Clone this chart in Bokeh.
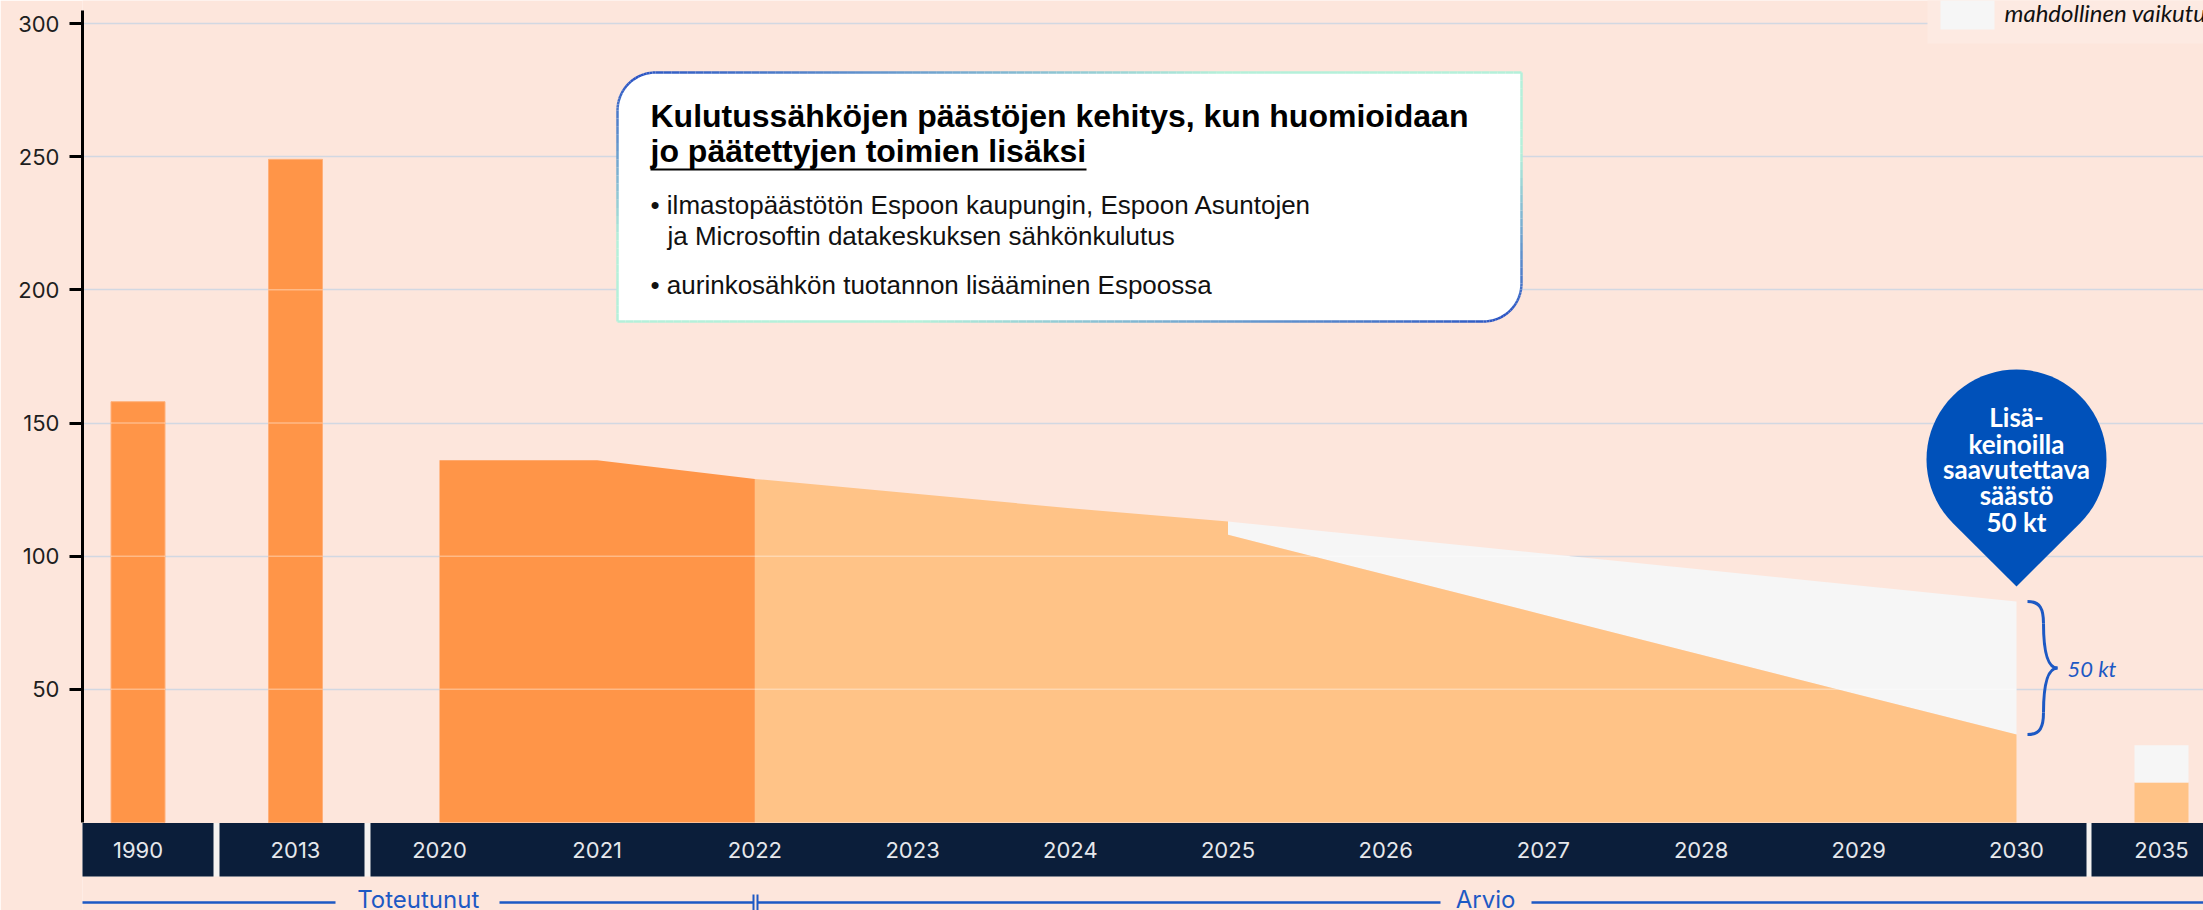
import math
from bokeh.plotting import figure
from bokeh.models import Range1d, FixedTicker, ColumnDataSource
from bokeh.core.properties import value
from bokeh.embed import file_html
from bokeh.resources import INLINE

# ---------------- data ----------------
hist_years = ["1990", "2013"]
hist_values = [158, 249]

actual_years = [2020, 2021, 2022]
actual_values = [136, 136, 129]

trend_years = [2022, 2023, 2024, 2025]
trend_values = [129, 123.5, 118, 113]

scen_years = [2025, 2026, 2027, 2028, 2029, 2030]
scen_decided = [108, 93, 78, 63, 48, 33]      # with decided measures
scen_baseline = [113, 107, 101, 95, 89, 83]   # top of potential savings

target_year = "2035"
target_decided = 15
target_potential = 29

tick_years = ["1990", "2013", "2020", "2021", "2022", "2023", "2024", "2025",
              "2026", "2027", "2028", "2029", "2030", "2035"]
y_ticks = [50, 100, 150, 200, 250, 300]

title_lines = ["Kulutussähköjen päästöjen kehitys, kun huomioidaan",
               "jo päätettyjen toimien lisäksi"]
bullet_lines = ["• ilmastopäästötön Espoon kaupungin, Espoon Asuntojen",
                "ja Microsoftin datakeskuksen sähkönkulutus",
                "• aurinkosähkön tuotannon lisääminen Espoossa"]
bubble_lines = ["Lisä-", "keinoilla", "saavutettava", "säästö", "50 kt"]
period_labels = ["Toteutunut", "Arvio"]
legend_text = "mahdollinen vaikutus"

# ---------------- layout helpers (page pixels -> data) ----------------
BG = "#FDE6DC"
NAVY = "#0B1E3A"
DARK_OR = "#FF9548"
LIGHT_OR = "#FFC387"
WHITE_A = "#F6F6F6"
BLUE = "#1D59C4"

PX_L, PX_R, PX_T, PX_B = 82, 2203, 0, 910
X0_PX, SX = 439.0, 157.7     # 2020 position, px per year
Y0_PX, SY = 822.0, 2.6633    # value 0, px per unit


def X(px):
    return (px - X0_PX) / SX


def Y(py):
    return (Y0_PX - py) / SY


special_slot = {"1990": X(137.5), "2013": X(295), "2035": X(2161)}


def xpos(year):
    s = str(year)
    return special_slot[s] if s in special_slot else int(s) - 2020


BAR_W = 54 / SX

p = figure(width=2203, height=910,
           x_range=Range1d(X(PX_L), X(PX_R)), y_range=Range1d(Y(PX_B), Y(PX_T)),
           output_backend="svg", toolbar_location=None, x_axis_location=None,
           min_border_left=82, min_border_right=0, min_border_top=0, min_border_bottom=0,
           background_fill_color=BG, border_fill_color=BG, outline_line_color=None)

# axis / grid
p.yaxis.ticker = FixedTicker(ticks=y_ticks)
p.yaxis.bounds = (0, Y(10))
p.yaxis.axis_line_width = 3
p.yaxis.axis_line_color = "black"
p.yaxis.major_tick_line_width = 3
p.yaxis.major_tick_line_color = "black"
p.yaxis.major_tick_out = 13
p.yaxis.major_tick_in = 0
p.yaxis.minor_tick_line_color = None
p.yaxis.major_label_text_font = "Inter"
p.yaxis.major_label_text_font_size = "22px"
p.yaxis.major_label_text_color = "#1E1E1E"
p.yaxis.major_label_standoff = 10
p.xgrid.visible = False
p.ygrid.grid_line_color = "#D2D8E2"
p.ygrid.grid_line_width = 1.5

# legend backdrop (top right)
p.quad(left=[X(1927)], right=[X(2230)], top=[Y(-20)], bottom=[Y(43)],
       fill_color="#FDEAE2", line_color=None)
p.quad(left=[X(1940)], right=[X(1994)], top=[Y(-20)], bottom=[Y(29)],
       fill_color=WHITE_A, line_color=None)
p.text(x=[X(2004)], y=[Y(11.5)], text=[legend_text], text_font=value("Lato"),
       text_font_style="italic", text_font_size="24px", text_color="#111111",
       text_baseline="middle")

# historical bars
src_hist = ColumnDataSource(dict(x=[xpos(y) for y in hist_years], top=hist_values))
p.vbar(x="x", top="top", bottom=0, width=BAR_W, source=src_hist,
       fill_color=DARK_OR, line_color="#FFB07A", line_width=1)

# realized area 2020-2022
p.varea(x=[xpos(y) for y in actual_years], y1=0, y2=actual_values, fill_color=DARK_OR)
# estimate 2022-2025
p.varea(x=[xpos(y) for y in trend_years], y1=0, y2=trend_values, fill_color=LIGHT_OR)
# 2025-2030 potential (white) and decided measures (light orange)
p.varea(x=[xpos(y) for y in scen_years], y1=scen_decided, y2=scen_baseline, fill_color=WHITE_A)
p.varea(x=[xpos(y) for y in scen_years], y1=0, y2=scen_decided, fill_color=LIGHT_OR)

# 2035 stacked bar
p.vbar(x=[xpos(target_year)], top=[target_decided], bottom=0, width=BAR_W,
       fill_color=LIGHT_OR, line_color=None)
p.vbar(x=[xpos(target_year)], top=[target_potential], bottom=target_decided, width=BAR_W,
       fill_color=WHITE_A, line_color=None)

# faint grid lines shown through the filled shapes
gx0, gx1, gy = [], [], []
for hx, hv in zip(hist_years, hist_values):
    for t in y_ticks:
        if t < hv:
            gx0.append(xpos(hx) - BAR_W / 2)
            gx1.append(xpos(hx) + BAR_W / 2)
            gy.append(t)
prof_x = [xpos(y) for y in actual_years] + [xpos(y) for y in trend_years[1:]] + \
         [xpos(y) for y in scen_years[1:]]
prof_y = actual_values + trend_values[1:] + scen_baseline[1:]
for t in y_ticks:
    if prof_y[0] <= t:
        continue
    end = prof_x[-1]
    for i in range(len(prof_x) - 1):
        if prof_y[i] > t >= prof_y[i + 1]:
            end = prof_x[i] + (prof_y[i] - t) / (prof_y[i] - prof_y[i + 1]) * (prof_x[i + 1] - prof_x[i])
            break
    gx0.append(prof_x[0])
    gx1.append(end)
    gy.append(t)
p.segment(x0=gx0, x1=gx1, y0=gy, y1=gy, line_color="white", line_alpha=0.35, line_width=1.5)

# year band
p.quad(left=[X(81)], right=[X(2230)], top=[Y(822.5)], bottom=[Y(876)],
       fill_color="#F5F2F0", line_color=None)
boxes = [(81, 213), (219, 364), (370, 2086), (2091, 2230)]
p.quad(left=[X(a) for a, b in boxes], right=[X(b) for a, b in boxes],
       top=Y(822.5), bottom=Y(876), fill_color=NAVY, line_color=None)
p.text(x=[xpos(y) for y in tick_years], y=Y(849), text=tick_years,
       text_font=value("Inter"), text_font_size="22px", text_color="#E6E8EC",
       text_align="center", text_baseline="middle")

# period line
ly = Y(902)
segs = [(81, 335), (499, 753), (757, 1440), (1531, 2230)]
p.segment(x0=[X(a) for a, b in segs], x1=[X(b) for a, b in segs], y0=ly, y1=ly,
          line_color=BLUE, line_width=2.5)
p.segment(x0=[X(753), X(757)], x1=[X(753), X(757)], y0=Y(894), y1=Y(912),
          line_color=BLUE, line_width=2)
p.text(x=[(X(81) + xpos(2022)) / 2, X(1485)], y=Y(899), text=period_labels,
       text_font=value("Inter"), text_font_size="24px", text_color=BLUE,
       text_align="center", text_baseline="middle")

# annotation box with rounded corners (top-left & bottom-right)
L, T, R, B, RAD = 617, 72, 1521, 321, 38


def box_path():
    pts = [(L + RAD, T), (R, T), (R, B - RAD)]
    n = 20
    for i in range(1, n + 1):
        a = math.pi / 2 * i / n
        pts.append((R - RAD + RAD * math.cos(a), B - RAD + RAD * math.sin(a)))
    pts += [(L, B), (L, T + RAD)]
    for i in range(1, n + 1):
        a = math.pi + math.pi / 2 * i / n
        pts.append((L + RAD + RAD * math.cos(a), T + RAD + RAD * math.sin(a)))
    return pts


path = box_path()
p.patch([X(a) for a, b in path], [Y(b) for a, b in path], fill_color="white", line_color=None)

dense = []
for (xa, ya), (xb, yb) in zip(path, path[1:] + path[:1]):
    d = math.hypot(xb - xa, yb - ya)
    k = max(1, int(d / 8))
    for j in range(k):
        dense.append((xa + (xb - xa) * j / k, ya + (yb - ya) * j / k))
c_blue = (40, 82, 196)
c_mint = (180, 240, 218)
xs, ys, cols = [], [], []
for (xa, ya), (xb, yb) in zip(dense, dense[1:] + dense[:1]):
    mx, my = (xa + xb) / 2, (ya + yb) / 2
    u, v = (mx - L) / (R - L), (my - T) / (B - T)
    t = min(1.0, abs(u - v) * 1.5)
    col = tuple(int(c_blue[i] * (1 - t) + c_mint[i] * t) for i in range(3))
    xs.append([X(xa), X(xb)])
    ys.append([Y(ya), Y(yb)])
    cols.append("#%02x%02x%02x" % col)
p.multi_line(xs=xs, ys=ys, line_color=cols, line_width=2.5)

p.text(x=[X(650), X(650)], y=[Y(115), Y(150)], text=title_lines,
       text_font=value("Liberation Sans"), text_font_style="bold", text_font_size="32px",
       text_color="#000000", text_baseline="middle")
p.segment(x0=[X(650)], x1=[X(1086)], y0=Y(169), y1=Y(169), line_color="black", line_width=2)
p.text(x=[X(650), X(667), X(650)], y=[Y(204), Y(235), Y(284)], text=bullet_lines,
       text_font=value("Liberation Sans"), text_font_size="26px", text_color="#111111",
       text_baseline="middle")

# pin bubble
cxp = X0_PX + xpos(2030) * SX
cyp, rr, tipy = 459, 90, 586
alpha = math.acos(rr / (tipy - cyp))
bx, by = [], []
n = 60
for i in range(n + 1):
    phi = alpha + (2 * math.pi - 2 * alpha) * i / n
    bx.append(X(cxp + rr * math.sin(phi)))
    by.append(Y(cyp + rr * math.cos(phi)))
bx.append(X(cxp))
by.append(Y(tipy))
p.patch(bx, by, fill_color="#0051BA", line_color=None)
p.text(x=X(cxp), y=[Y(416), Y(443), Y(468.5), Y(494), Y(521)], text=bubble_lines,
       text_font=value("Lato"), text_font_style="bold", text_font_size="26px",
       text_color="white", text_align="center", text_baseline="middle")

# brace between the two 2030 values
y_top, y_bot = scen_baseline[-1], scen_decided[-1]
ym = (y_top + y_bot) / 2
x0b, xmb, xtb = X(2027), X(2043), X(2057)
dy = 22 / SY
cy1 = 8 / SY
cy2 = 14 / SY
p.bezier(x0=[x0b, xmb, xtb, xmb], y0=[y_top, y_top - dy, ym, y_bot + dy],
         x1=[xmb, xtb, xmb, x0b], y1=[y_top - dy, ym, y_bot + dy, y_bot],
         cx0=[X(2040), xmb, X(2048), xmb], cy0=[y_top, ym + cy2, ym, y_bot + cy1],
         cx1=[xmb, X(2048), xmb, X(2040)], cy1=[y_top - cy1, ym, ym - cy2, y_bot],
         line_color=BLUE, line_width=3)
p.text(x=[X(2067)], y=[ym], text=["%d kt" % (y_top - y_bot)], text_font=value("Lato"),
       text_font_style="italic", text_font_size="22px", text_color=BLUE,
       text_baseline="middle")

open("out.html", "w").write(file_html(p, INLINE))
